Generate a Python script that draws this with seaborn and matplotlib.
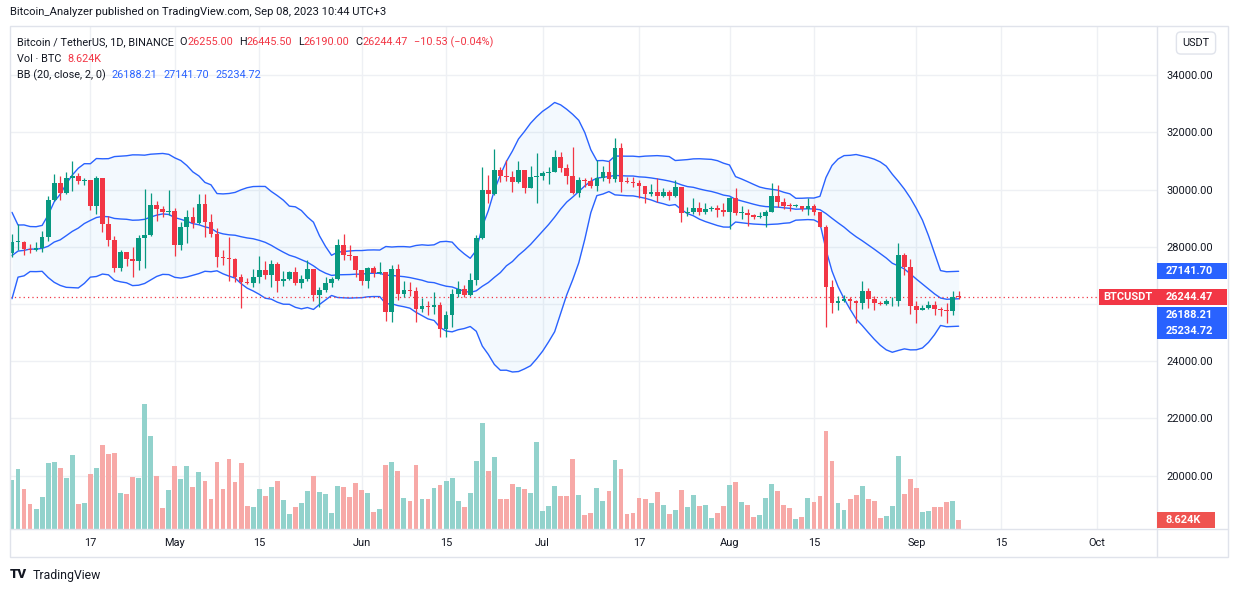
import numpy as np
import pandas as pd
import matplotlib
matplotlib.use('Agg')
import matplotlib.pyplot as plt
import matplotlib.transforms as mtransforms
from matplotlib.patches import Rectangle
import seaborn as sns

# BTCUSDT 1D candles, 2023-04-04 .. 2023-09-08
open_ = [27790, 28170, 28175, 27910, 27900, 27950, 28340, 29650, 30230, 29880,
         30390, 30480, 30300, 30320, 29430, 30390, 28800, 28250, 27260, 27820,
         27590, 27510, 28300, 28420, 29470, 29310, 29200, 29250, 28050, 28690,
         29030, 28820, 29500, 28860, 28430, 27660, 27620, 27590, 26960, 26780,
         26750, 26930, 27190, 27030, 27390, 26820, 26890, 27120, 26750, 26860,
         27230, 26330, 26490, 26730, 26880, 28060, 27720, 27690, 27200, 26820,
         27250, 27070, 27120, 25730, 27230, 26340, 26500, 26470, 25840, 25940,
         25900, 25950, 25130, 25600, 26340, 26520, 26330, 26840, 28300, 29990,
         29860, 30690, 30480, 30450, 30250, 30690, 30070, 30430, 30480, 30570,
         30620, 31130, 30740, 30480, 29880, 30340, 30290, 30140, 30420, 30610,
         30370, 31460, 30280, 30270, 30220, 30110, 29830, 29920, 29790, 29910,
         29790, 30080, 29180, 29230, 29350, 29210, 29310, 29350, 29270, 29220,
         29700, 29180, 29190, 29100, 29050, 29080, 29210, 29770, 29580, 29440,
         29420, 29430, 29310, 29430, 29200, 28700, 26610, 26050, 26100, 26190,
         26120, 26040, 26440, 26170, 26050, 26010, 26090, 26120, 27720, 27300,
         25940, 25800, 25870, 25970, 25810, 25780, 25750, 26255]
high = [28440, 28780, 28190, 28090, 28160, 28550, 29770, 30560, 30490, 30600,
        31000, 30570, 30400, 30320, 30480, 30410, 29080, 28370, 27880, 27820,
        27980, 28420, 30020, 29880, 29600, 29420, 29970, 29340, 28880, 29270,
        29400, 29840, 29830, 29150, 28660, 27880, 28330, 27620, 27060, 26900,
        27220, 27670, 27500, 27540, 27470, 27150, 27160, 27280, 27000, 27540,
        27230, 26610, 26950, 26930, 28270, 28450, 28060, 27690, 27200, 27290,
        27330, 27460, 27120, 27360, 27400, 26800, 26770, 26600, 26200, 26100,
        26420, 26060, 25750, 26510, 26800, 26680, 27070, 28410, 30780, 30500,
        31420, 30800, 31040, 30650, 31000, 30690, 30820, 31270, 30660, 30780,
        31390, 31330, 30880, 31480, 30440, 30400, 30430, 31040, 30820, 30990,
        31800, 31640, 30430, 30430, 30340, 30110, 30190, 30400, 30050, 29990,
        30340, 30080, 29380, 29690, 29560, 29520, 29420, 29450, 29520, 29740,
        30050, 29410, 29310, 29150, 29200, 29280, 30230, 30150, 29700, 29520,
        29490, 29430, 29700, 29490, 29220, 28770, 26830, 26280, 26300, 26260,
        26140, 26820, 26570, 26280, 26120, 26170, 26250, 28140, 27770, 27580,
        26120, 25970, 26110, 26110, 25910, 26040, 26440, 26445.5]
low = [27660, 27890, 27710, 27790, 27860, 27820, 28200, 29600, 29640, 29850,
       29960, 30200, 30150, 29270, 29150, 28530, 28030, 27130, 27160, 27330,
       26950, 27190, 27250, 28380, 28900, 29040, 29100, 27680, 27900, 28140,
       28670, 28800, 28330, 28350, 27290, 27370, 26810, 26760, 25850, 26700,
       26590, 26720, 26880, 26600, 26420, 26630, 26850, 26680, 26560, 26810,
       26110, 25900, 26420, 26600, 26850, 27540, 27540, 26950, 26650, 26550,
       26960, 27050, 25400, 25370, 26150, 26250, 26290, 25380, 25720, 25620,
       25650, 24850, 24830, 25180, 26260, 26250, 26280, 26660, 28260, 29540,
       29820, 30250, 30300, 29920, 30230, 29870, 30050, 29520, 30320, 30180,
       30600, 30630, 30200, 29850, 29730, 30080, 30060, 29960, 30310, 30230,
       30250, 29930, 30220, 30080, 29690, 29540, 29760, 29580, 29740, 29640,
       29740, 28870, 29060, 29140, 29100, 29130, 29260, 29030, 29080, 28610,
       29120, 28960, 28740, 28960, 29000, 28700, 29210, 29390, 29310, 29260,
       29380, 29260, 29110, 29100, 28700, 25200, 25670, 25800, 26060, 25820,
       25350, 25810, 25860, 25780, 25980, 25960, 25920, 25920, 27010, 25660,
       25330, 25780, 25810, 25600, 25580, 25350, 25630, 26190]
close = [28170, 28175, 27910, 27900, 27950, 28340, 29650, 30230, 29880, 30390,
         30480, 30300, 30320, 29430, 30390, 28800, 28250, 27260, 27820, 27590,
         27510, 28300, 28420, 29470, 29310, 29200, 29250, 28050, 28690, 29030,
         28820, 29500, 28860, 28430, 27660, 27620, 27590, 26960, 26780, 26750,
         26930, 27190, 27030, 27390, 26820, 26890, 27120, 26750, 26860, 27230,
         26330, 26490, 26730, 26880, 28060, 27720, 27690, 27200, 26820, 27250,
         27070, 27120, 25730, 27230, 26340, 26500, 26470, 25840, 25940, 25900,
         25950, 25130, 25600, 26340, 26520, 26330, 26840, 28300, 29990, 29860,
         30690, 30480, 30450, 30250, 30690, 30070, 30430, 30480, 30570, 30620,
         31130, 30740, 30480, 29880, 30340, 30290, 30140, 30420, 30610, 30370,
         31460, 30280, 30270, 30220, 30110, 29830, 29920, 29790, 29910, 29790,
         30080, 29180, 29230, 29350, 29210, 29310, 29350, 29270, 29220, 29700,
         29180, 29190, 29100, 29050, 29080, 29210, 29770, 29580, 29440, 29420,
         29430, 29310, 29430, 29200, 28700, 26610, 26050, 26100, 26190, 26120,
         26040, 26440, 26170, 26050, 26010, 26090, 26120, 27720, 27300, 25940,
         25800, 25870, 25970, 25810, 25780, 25750, 26255, 26244.47]
# volume in thousands of BTC
volume_k = [47.0, 57.6, 38.4, 24.0, 19.2, 30.7, 63.4, 64.3, 58.6, 49.0,
            71.0, 24.0, 25.0, 52.8, 58.6, 80.6, 72.0, 73.0, 34.6, 33.6,
            49.9, 49.0, 120.0, 89.3, 50.9, 20.2, 37.4, 60.5, 48.0, 60.5,
            40.3, 54.7, 46.1, 28.8, 64.3, 38.4, 67.2, 45.1, 63.4, 22.1,
            21.1, 38.4, 31.7, 40.3, 46.1, 27.8, 14.4, 21.1, 25.0, 36.5,
            50.9, 35.5, 33.6, 15.4, 41.3, 40.3, 30.7, 44.2, 37.4, 34.6,
            16.3, 19.2, 61.4, 64.3, 55.7, 29.8, 26.9, 61.4, 28.8, 28.8,
            39.4, 42.2, 46.1, 49.0, 26.9, 21.1, 34.6, 65.3, 101.8, 55.7,
            69.1, 28.8, 28.8, 43.2, 40.3, 38.4, 34.6, 83.5, 17.3, 22.1,
            41.3, 31.7, 31.7, 67.2, 32.6, 13.4, 15.4, 39.4, 26.9, 36.5,
            66.2, 57.6, 14.4, 15.4, 29.8, 28.8, 25.0, 35.5, 23.0, 14.4,
            18.2, 37.4, 21.1, 32.6, 22.1, 23.0, 10.6, 15.4, 22.1, 42.2,
            45.1, 25.9, 23.0, 11.5, 13.4, 29.8, 43.2, 36.5, 23.0, 20.2,
            9.6, 11.5, 29.8, 25.9, 31.7, 94.1, 65.3, 25.0, 18.2, 28.8,
            32.6, 41.3, 28.8, 26.9, 10.6, 12.5, 22.1, 70.1, 33.6, 48.0,
            39.4, 16.3, 17.3, 21.1, 21.1, 25.9, 26.9, 8.624]
# closes of the 19 days before the first candle (for the 20-day bands)
warmup_close = [25050, 27420, 26970, 28040, 27770, 28170, 27300, 28330, 27480, 27470,
                27990, 27140, 27270, 28350, 28030, 28480, 28450, 28200, 27800]

start_date = '2023-04-04'
tick_dates = ['2023-04-17', '2023-05-01', '2023-05-15', '2023-06-01', '2023-06-15', '2023-07-01',
              '2023-07-17', '2023-08-01', '2023-08-15', '2023-09-01', '2023-09-15', '2023-10-01']
tick_labels = ['17', 'May', '15', 'Jun', '15', 'Jul', '17', 'Aug', '15', 'Sep', '15', 'Oct']
price_ticks = [20000, 22000, 24000, 26000, 28000, 30000, 32000, 34000]

UP, DOWN = '#089981', '#f23645'
UP_VOL, DOWN_VOL = '#92d2cc', '#f7a9a7'
BLUE = '#2962ff'
TXT = '#131722'
GRID = '#eef0f4'
FRAME = '#e0e3eb'

sns.set_style('white')
plt.rcParams['font.family'] = ['Roboto', 'DejaVu Sans']

o = np.array(open_, dtype=float)
h = np.array(high, dtype=float)
l = np.array(low, dtype=float)
c = np.array(close, dtype=float)
n = len(c)
days = np.arange(n)
up = c >= o

# Bollinger bands (20, close, 2)
allc = pd.Series(warmup_close + close, dtype=float)
mid = allc.rolling(20).mean().iloc[-n:].to_numpy()
sd = allc.rolling(20).std(ddof=0).iloc[-n:].to_numpy()
bb = pd.DataFrame({'day': days, 'basis': mid, 'upper': mid + 2 * sd, 'lower': mid - 2 * sd})

W, H = 1233, 592
fig = plt.figure(figsize=(W / 100, H / 100), dpi=100)
fig.patch.set_facecolor('white')
rect = [10 / W, 63 / H, 1147 / W, 503 / H]
axv = fig.add_axes(rect)
ax = fig.add_axes(rect, sharex=axv)
ax.patch.set_visible(False)

ax.set_xlim(-0.33, 189.9)
ax.set_ylim(18133, 35720)
axv.set_ylim(0, 482.9)

# grid (drawn on the bottom axes so it sits behind the volume)
t0 = pd.Timestamp(start_date)
tick_pos = [(pd.Timestamp(d) - t0).days for d in tick_dates]
ax.set_xticks(tick_pos)
ax.set_xticklabels(tick_labels)
axv.grid(axis='x', color=GRID, lw=1)
blend = mtransforms.blended_transform_factory(axv.transAxes, ax.transData)
for p in price_ticks:
    axv.plot([0, 1], [p, p], transform=blend, color=GRID, lw=1, zorder=0)

# volume
axv.bar(days, volume_k, width=0.8, color=np.where(up, UP_VOL, DOWN_VOL), lw=0, zorder=2)

# bands
ax.fill_between(days, bb['lower'], bb['upper'], color='#2196f3', alpha=0.05, lw=0, zorder=1)
for col in ['upper', 'basis', 'lower']:
    sns.lineplot(data=bb, x='day', y=col, ax=ax, color=BLUE, lw=1, zorder=2)

# candles
colors = np.where(up, UP, DOWN)
ax.vlines(days, l, h, colors=colors, lw=0.9, zorder=3)
ax.bar(days, np.maximum(np.abs(c - o), 25), bottom=np.minimum(o, c), width=0.78,
       color=colors, lw=0, zorder=4)

ax.axhline(c[-1], color=DOWN, lw=0.9, ls=(0, (1, 2.5)), zorder=2)

for a in (ax, axv):
    for s in a.spines.values():
        s.set_visible(False)
ax.set_xlabel('')
ax.set_ylabel('')
axv.tick_params(left=False, labelleft=False, bottom=False, labelbottom=False)
ax.yaxis.tick_right()
ax.set_yticks(price_ticks)
ax.set_yticklabels([f'{p:.2f}' if p != 26000 else '' for p in price_ticks])
ax.tick_params(axis='y', length=0, pad=6.5, labelsize=7.9, labelcolor=TXT)
ax.tick_params(axis='x', length=0, pad=6.2, labelsize=7.9, labelcolor=TXT)

# frame and separators
fig.add_artist(Rectangle((10 / W, 35 / H), 1218 / W, 531 / H, transform=fig.transFigure,
                         fill=False, ec=FRAME, lw=1))
fig.add_artist(plt.Line2D([10 / W, 1228 / W], [63 / H, 63 / H], color=FRAME, lw=1))
fig.add_artist(plt.Line2D([1157 / W, 1157 / W], [35 / H, 566 / H], color=FRAME, lw=1))


def px(x, y):
    return x / W, 1 - y / H


def box_label(value, text, color, axis, shift=0, x0=1157, x1=1227, tx=1166, ha='left'):
    yd = axis.transData.transform((0, value))[1] - shift
    fig.add_artist(Rectangle((x0 / W, (yd - 8) / H), (x1 - x0) / W, 16 / H,
                             transform=fig.transFigure, color=color, lw=0, zorder=5))
    fig.text(tx / W, yd / H, text, color='white', fontsize=7.9, fontweight='bold',
             ha=ha, va='center', zorder=6)


box_label(bb['upper'].iloc[-1], '27141.70', BLUE, ax)
box_label(c[-1], '26244.47', DOWN, ax)
box_label(c[-1], 'BTCUSDT', DOWN, ax, x0=1099, x1=1157, tx=1128, ha='center')
box_label(bb['basis'].iloc[-1], '26188.21', BLUE, ax, shift=16.5)
box_label(bb['lower'].iloc[-1], '25234.72', BLUE, ax, shift=5)
box_label(volume_k[-1], '8.624K', '#ef5350', axv, x1=1215)

fig.text(*px(1196, 43), 'USDT', fontsize=7.9, color=TXT, ha='center', va='center',
         bbox=dict(boxstyle='round,pad=0.55,rounding_size=0.4', fc='white', ec=FRAME, lw=1))

# header: pieces placed one after the other
renderer = fig.canvas.get_renderer()


def text_row(x, y, pieces, fs=7.8):
    for txt, col, gap in pieces:
        x += gap
        t = fig.text(*px(x, y), txt, fontsize=fs, color=col, va='center')
        x += t.get_window_extent(renderer).width


fig.text(*px(10, 12), 'Bitcoin_Analyzer published on TradingView.com, Sep 08, 2023 10:44 UTC+3',
         fontsize=8.1, color=TXT, va='center')
text_row(17, 42, [('Bitcoin / TetherUS, 1D, BINANCE', TXT, 0),
                  ('O', TXT, 6), ('26255.00', DOWN, 0),
                  ('H', TXT, 6), ('26445.50', DOWN, 0),
                  ('L', TXT, 6), ('26190.00', DOWN, 0),
                  ('C', TXT, 6), ('26244.47', DOWN, 0),
                  ('\u221210.53 (\u22120.04%)', DOWN, 6)])
text_row(17, 59, [('Vol \u00b7 BTC', TXT, 0), ('8.624K', DOWN, 6)])
text_row(17, 75, [('BB (20, close, 2, 0)', TXT, 0), ('26188.21', BLUE, 6),
                  ('27141.70', BLUE, 6), ('25234.72', BLUE, 6)])

# footer logo
fig.text(*px(10, 575), 'TV', fontsize=9.5, fontweight='heavy', color=TXT, va='center')
fig.text(*px(33, 575), 'TradingView', fontsize=8.8, color=TXT, va='center')

fig.savefig('out.png', dpi=100)
